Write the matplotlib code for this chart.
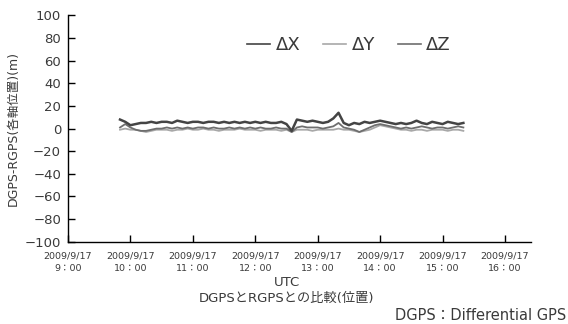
import matplotlib
matplotlib.use("Agg")
import matplotlib.pyplot as plt
import pandas as pd

plt.rcParams['font.family'] = ['DejaVu Sans', 'Noto Sans CJK JP']

# sample times (5-minute steps, 09:50 - 15:20 UTC)
times = pd.date_range('2009-09-17 09:50', '2009-09-17 15:20', freq='5min')

# ΔX (dark)
dx = [8, 6,
      3, 4, 5, 5, 6, 5, 6, 6, 5, 7, 6, 5,
      6, 6, 5, 6, 6, 5, 6, 5, 6, 5, 6, 5,
      6, 5, 6, 5, 5, 6, 4, -2, 8, 7, 6, 7,
      6, 5, 6, 9, 14, 5, 3, 5, 4, 6, 5, 6,
      7, 6, 5, 4, 5, 4, 5, 7, 5, 4, 6, 5,
      4, 6, 5, 4, 5]
# ΔY (light)
dy = [-1, 0,
      -1, -1, -2, -3, -2, -1, -1, -1, -2, -1, -1, 0,
      -1, -1, 0, -1, -1, -2, -1, -1, -1, 0, -1, -1,
      -1, -2, -1, -1, -1, -2, -1, -3, -1, -1, -1, -2,
      -1, -1, -1, -1, 0, -1, -1, -2, -3, -2, -1, 1,
      3, 2, 1, 0, -1, -1, -2, -1, -1, -2, -1, -1,
      -1, -2, -1, -1, -2]
# ΔZ (medium)
dz = [1, 4,
      1, -1, -2, -2, -1, 0, 0, 1, 0, 1, 0, 1,
      0, 1, 1, 0, 1, 0, 0, 1, 0, 1, 0, 1,
      0, 1, 0, 0, 1, 0, 0, -3, 1, 2, 1, 1,
      1, 0, 1, 2, 5, 1, 0, -1, -3, -1, 1, 3,
      4, 3, 2, 1, 0, 1, 0, 1, 2, 1, 0, 1,
      1, 0, 1, 2, 1]

series_names = ['ΔX', 'ΔY', 'ΔZ']
series_colors = ['#444444', '#a8a8a8', '#6e6e6e']

xtick_times = pd.date_range('2009-09-17 09:00', '2009-09-17 16:00', freq='1h')
xtick_labels = ['2009/9/17\n%d：00' % t.hour for t in xtick_times]
yticks = list(range(-100, 101, 20))

fig = plt.figure(figsize=(5.68, 3.24), dpi=100)
ax = fig.add_axes([68/568, 1-241.7/324, (531-68)/568, (241.7-15.5)/324])

order = [(dy, 1), (dz, 2), (dx, 0)]
handles = {}
for vals, k in order:
    lw = 1.8 if k == 0 else 1.3
    h, = ax.plot(times, vals, color=series_colors[k], lw=lw, label=series_names[k])
    handles[k] = h

ax.set_ylim(-100, 100)
ax.set_xlim(pd.Timestamp('2009-09-17 09:00'), pd.Timestamp('2009-09-17 16:25'))
ax.set_yticks(yticks)
ax.set_yticklabels(['−%d' % -v if v < 0 else str(v) for v in yticks], fontsize=9.5, color='#3a3a3a')
ax.set_xticks(xtick_times)
ax.set_xticklabels(xtick_labels, fontsize=6.8, color='#3a3a3a', linespacing=1.45)
ax.tick_params(axis='y', direction='in', length=5, width=1, pad=5)
ax.tick_params(axis='x', direction='in', length=5, width=1, pad=7)
for s in ['top', 'right']:
    ax.spines[s].set_visible(False)
for s in ['left', 'bottom']:
    ax.spines[s].set_linewidth(1)

fig.text(13/568, 1-128/324, 'DGPS-RGPS(各軸位置)(m)', rotation=90, ha='center', va='center',
         fontsize=9, color='#3a3a3a')

leg = ax.legend([handles[0], handles[1], handles[2]], series_names, loc='center',
                bbox_to_anchor=(0.607, 0.87), ncol=3, frameon=False, fontsize=13,
                handlelength=1.28, handletextpad=0.28, columnspacing=1.28)
for t in leg.get_texts():
    t.set_color('#3a3a3a')
for l in leg.get_lines():
    l.set_linewidth(1.2)

fig.text(287/568, 1-283/324, 'UTC', ha='center', va='center', fontsize=9.5, color='#3a3a3a')
fig.text(287/568, 1-298/324, 'DGPSとRGPSとの比較(位置)', ha='center', va='center', fontsize=9.5, color='#3a3a3a')
fig.text(566/568, 1-315/324, 'DGPS：Differential GPS', ha='right', va='center', fontsize=10.5, color='#3a3a3a')

fig.savefig('out.png', dpi=100)
